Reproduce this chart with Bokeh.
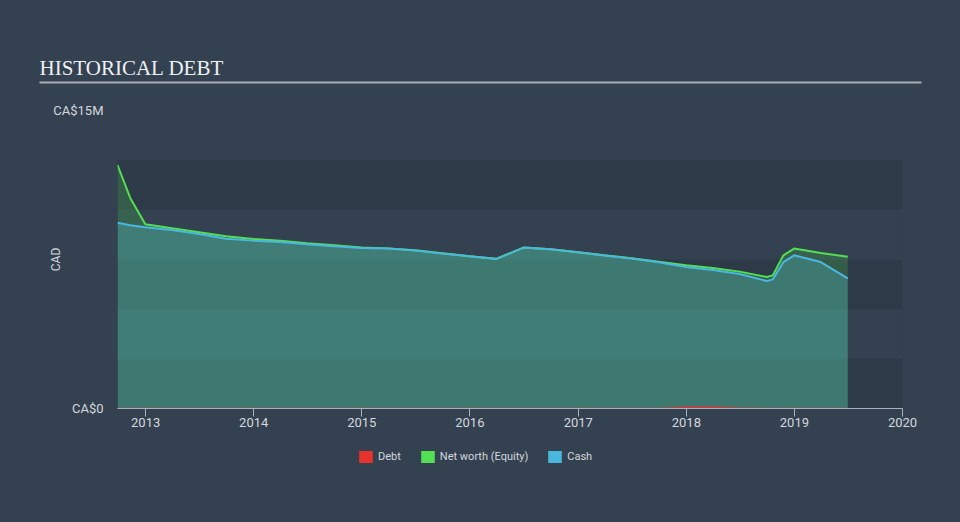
import pandas as pd
from bokeh.plotting import figure
from bokeh.layouts import column
from bokeh.core.properties import value
from bokeh.models import (ColumnDataSource, FixedTicker, Legend, LegendItem,
                          Range1d, DatetimeTickFormatter)
from bokeh.embed import file_html
from bokeh.resources import INLINE

# ---- data (CA$ millions) ----
dates = ["2012-09-28", "2012-11-10", "2012-12-31", "2013-03-31", "2013-06-30",
         "2013-09-30", "2013-12-31", "2014-03-31", "2014-06-30", "2014-09-30",
         "2014-12-31", "2015-03-31", "2015-06-30", "2015-09-30", "2015-12-31",
         "2016-03-31", "2016-06-30", "2016-09-30", "2016-12-31", "2017-03-31",
         "2017-06-30", "2017-09-30", "2017-12-31", "2018-03-31", "2018-06-30",
         "2018-09-30", "2018-10-20", "2018-11-25", "2018-12-31", "2019-03-31",
         "2019-06-30"]
equity = [12.25, 10.60, 9.27, 9.07, 8.87,
          8.67, 8.53, 8.45, 8.32, 8.22,
          8.11, 8.06, 7.96, 7.81, 7.66,
          7.54, 8.10, 8.01, 7.86, 7.71,
          7.56, 7.39, 7.21, 7.07, 6.89,
          6.62, 6.70, 7.71, 8.05, 7.83,
          7.64]
cash = [9.35, 9.22, 9.12, 8.98, 8.78,
        8.55, 8.45, 8.38, 8.27, 8.17,
        8.08, 8.05, 7.95, 7.80, 7.66,
        7.53, 8.10, 8.01, 7.86, 7.70,
        7.55, 7.36, 7.12, 6.97, 6.77,
        6.42, 6.50, 7.37, 7.71, 7.37,
        6.55]
debt = [0, 0, 0, 0, 0,
        0, 0, 0, 0, 0,
        0, 0, 0, 0, 0,
        0, 0, 0, 0, 0,
        0, 0, 0.07, 0.08, 0.03,
        0, 0, 0, 0, 0,
        0]

year_ticks = [2013, 2014, 2015, 2016, 2017, 2018, 2019, 2020]
y_ticks = [0, 15e6]
y_tick_labels = ["CA$0", "CA$15M"]
band_edges = [0, 2.5e6, 5e6, 7.5e6, 10e6, 12.5e6]
legend_labels = ["Debt", "Net worth (Equity)", "Cash"]
title_text = "HISTORICAL DEBT"
y_axis_title = "CAD"

# ---- colours ----
BG = "#334151"
BAND_DARK = "#2e3a48"
BAND_LIGHT = "#334151"
GREEN = "#52e052"
BLUE = "#4ab8de"
RED = "#e8322c"
TXT = "#d4d8dd"
AXIS = "#a9b1ba"
W = 960
NAN = float("nan")


def blank(height):
    f = figure(width=W, height=height, output_backend="svg", toolbar_location=None,
               x_range=Range1d(0, W), y_range=Range1d(height, 0),
               min_border=0, frame_align=False, styles={"background-color": BG})
    f.axis.visible = False
    f.grid.visible = False
    f.outline_line_color = None
    f.background_fill_color = BG
    f.border_fill_color = BG
    return f


# ---- header ----
TOP_H = 100
top = blank(TOP_H)
top.text(x=[39], y=[67], text=[title_text], text_font=value("Liberation Serif"),
         text_font_size="21px", text_color="#eef0f2", text_baseline="middle")
top.segment(x0=[39], y0=[82], x1=[921], y1=[82], line_color="#a9aeb5", line_width=2)

# ---- main chart ----
src = ColumnDataSource(dict(
    x=pd.to_datetime(dates),
    equity=[v * 1e6 for v in equity],
    cash=[v * 1e6 for v in cash],
    debt=[v * 1e6 for v in debt],
    zero=[0] * len(dates),
))

x_start = pd.Timestamp(dates[0])
x_end = pd.Timestamp(f"{year_ticks[-1]}-01-01")

MAIN_H = 340
p = figure(width=W, height=MAIN_H, output_backend="svg", toolbar_location=None,
           x_axis_type="datetime",
           x_range=Range1d(x_start, x_end), y_range=Range1d(y_ticks[0], y_ticks[-1]),
           min_border_left=117, min_border_right=58, min_border_top=10,
           min_border_bottom=32, frame_align=False, styles={"background-color": BG})
p.background_fill_color = BG
p.border_fill_color = BG
p.outline_line_color = None
p.grid.visible = False

band_src = ColumnDataSource(dict(
    bottom=band_edges[:-1], top=band_edges[1:],
    color=[BAND_DARK if i % 2 == 0 else BAND_LIGHT for i in range(len(band_edges) - 1)],
))
p.quad(left=x_start, right=x_end, bottom="bottom", top="top", fill_color="color",
       line_color=None, source=band_src)

p.varea(x="x", y1="zero", y2="equity", source=src, fill_color="#4ee44e", fill_alpha=0.2)
p.varea(x="x", y1="zero", y2="cash", source=src, fill_color="#52b6c8", fill_alpha=0.32)
p.varea(x="x", y1="zero", y2="debt", source=src, fill_color=RED, fill_alpha=0.6)

p.line(x="x", y="debt", source=src, line_color=RED, line_width=1.5, line_alpha=0.7)
p.line(x="x", y="equity", source=src, line_color=GREEN, line_width=2)
p.line(x="x", y="cash", source=src, line_color=BLUE, line_width=2)

xa = p.xaxis[0]
xa.ticker = FixedTicker(ticks=[pd.Timestamp(f"{y}-01-01").value / 1e6 for y in year_ticks])
xa.formatter = DatetimeTickFormatter(years="%Y", months="%Y", days="%Y", hours="%Y")
xa.axis_line_color = AXIS
xa.major_tick_line_color = AXIS
xa.major_tick_out = 8
xa.major_tick_in = 0
xa.minor_tick_line_color = None
xa.major_label_standoff = 1
xa.major_label_text_color = TXT
xa.major_label_text_font = "Roboto"
xa.major_label_text_font_size = "13px"

ya = p.yaxis[0]
ya.ticker = FixedTicker(ticks=y_ticks)
ya.major_label_overrides = {t: l for t, l in zip(y_ticks, y_tick_labels)}
ya.axis_line_color = None
ya.major_tick_line_color = None
ya.minor_tick_line_color = None
ya.major_tick_out = 0
ya.major_tick_in = 0
ya.major_label_standoff = 14
ya.major_label_text_color = TXT
ya.major_label_text_font = "Roboto"
ya.major_label_text_font_size = "13px"
ya.axis_label = y_axis_title
ya.axis_label_standoff = -13
ya.axis_label_text_color = TXT
ya.axis_label_text_font = "Roboto"
ya.axis_label_text_font_size = "12px"
ya.axis_label_text_font_style = "normal"

# ---- legend strip ----
BOT_H = 522 - TOP_H - MAIN_H
bot = blank(BOT_H)
r_debt = bot.quad(left=[NAN], right=[NAN], bottom=[NAN], top=[NAN], fill_color=RED, line_color=None)
r_eq = bot.quad(left=[NAN], right=[NAN], bottom=[NAN], top=[NAN], fill_color=GREEN, line_color=None)
r_cash = bot.quad(left=[NAN], right=[NAN], bottom=[NAN], top=[NAN], fill_color=BLUE, line_color=None)
legend = Legend(items=[LegendItem(label=legend_labels[0], renderers=[r_debt]),
                       LegendItem(label=legend_labels[1], renderers=[r_eq]),
                       LegendItem(label=legend_labels[2], renderers=[r_cash])],
                orientation="horizontal", location=(357, BOT_H - 24),
                background_fill_alpha=0, border_line_alpha=0,
                label_text_color=TXT, label_text_font="Roboto",
                label_text_font_size="11px", glyph_width=17, glyph_height=15,
                label_standoff=4, spacing=18, padding=0, margin=0,
                label_height=15)
bot.add_layout(legend)

layout = column(top, p, bot, spacing=0, styles={"background-color": BG})
open("out.html", "w").write(file_html(layout, INLINE))
